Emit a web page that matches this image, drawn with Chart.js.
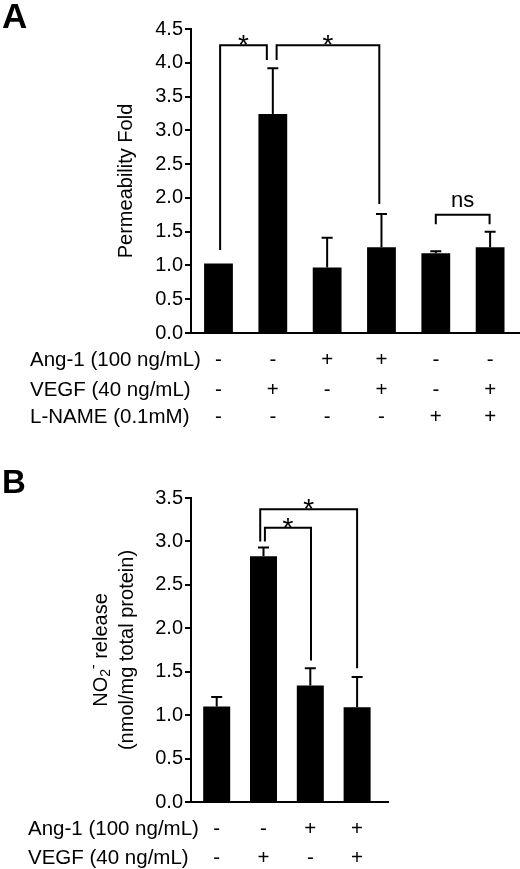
<!DOCTYPE html>
<html><head><meta charset="utf-8">
<script src="https://cdn.jsdelivr.net/npm/chart.js@4.4.0/dist/chart.umd.min.js"></script>
<style>
html,body{margin:0;padding:0;background:#fff;width:520px;height:869px;overflow:hidden}
canvas{position:absolute;left:0}
#ca{top:0}
#cb{top:440px}
</style></head><body>
<canvas id="ca" width="520" height="440"></canvas>
<canvas id="cb" width="520" height="429"></canvas>
<script>
const FONT = '"Liberation Sans", Arial, Helvetica, sans-serif';

// ---------- Panel A data ----------
const groupsA = ['G1', 'G2', 'G3', 'G4', 'G5', 'G6'];
const valuesA = [1.03, 3.24, 0.97, 1.27, 1.18, 1.27];
const errorsA = [0, 0.68, 0.44, 0.49, 0.03, 0.23];
const yTicksA = [0, 0.5, 1.0, 1.5, 2.0, 2.5, 3.0, 3.5, 4.0, 4.5];
const rowLabelsA = ['Ang-1 (100 ng/mL)', 'VEGF (40 ng/mL)', 'L-NAME (0.1mM)'];
const ang1A  = ['-', '-', '+', '+', '-', '-'];
const vegfA  = ['-', '+', '-', '+', '-', '+'];
const lnameA = ['-', '-', '-', '-', '+', '+'];
const bracketsA = [
  {from: 0.03, to: 0.89, top: 4.26, leftEnd: 1.23, rightEnd: 4.04, label: '*'},
  {from: 1.07, to: 2.96, top: 4.26, leftEnd: 4.04, rightEnd: 1.91, label: '*'},
  {from: 4.00, to: 4.99, top: 1.75, leftEnd: 1.61, rightEnd: 1.61, label: 'ns'}
];

// ---------- Panel B data ----------
const groupsB = ['G1', 'G2', 'G3', 'G4'];
const valuesB = [1.10, 2.83, 1.34, 1.09];
const errorsB = [0.11, 0.10, 0.20, 0.35];
const yTicksB = [0, 0.5, 1.0, 1.5, 2.0, 2.5, 3.0, 3.5];
const rowLabelsB = ['Ang-1 (100 ng/mL)', 'VEGF (40 ng/mL)'];
const ang1B = ['-', '-', '+', '+'];
const vegfB = ['-', '+', '-', '+'];
const bracketsB = [
  {from: 0.93, to: 3.00, top: 3.37, leftEnd: 3.00, rightEnd: 1.54, label: '*'},
  {from: 1.03, to: 2.015, top: 3.157, leftEnd: 3.00, rightEnd: 1.63, label: '*'}
];

function extrasPlugin(o) {
  return {
    id: 'extras',
    afterDatasetsDraw(chart) {
      const {ctx} = chart, x = chart.scales.x, y = chart.scales.y;
      ctx.save();
      ctx.strokeStyle = '#000'; ctx.fillStyle = '#000';
      ctx.lineWidth = 2; ctx.lineCap = 'butt'; ctx.lineJoin = 'miter';
      o.values.forEach((v, i) => {
        const e = o.errors[i]; if (!e) return;
        const px = x.getPixelForValue(i);
        const y0 = y.getPixelForValue(v), y1 = y.getPixelForValue(v + e);
        ctx.beginPath();
        ctx.moveTo(px, y0); ctx.lineTo(px, y1);
        ctx.moveTo(px - 5.5, y1); ctx.lineTo(px + 5.5, y1);
        ctx.stroke();
      });
      o.brackets.forEach(b => {
        const xa = x.getPixelForValue(b.from), xb = x.getPixelForValue(b.to);
        const yt = y.getPixelForValue(b.top);
        const ya = y.getPixelForValue(b.leftEnd), yb = y.getPixelForValue(b.rightEnd);
        ctx.beginPath();
        ctx.moveTo(xa, ya); ctx.lineTo(xa, yt); ctx.lineTo(xb, yt); ctx.lineTo(xb, yb);
        ctx.stroke();
        ctx.textAlign = 'center'; ctx.textBaseline = 'alphabetic';
        if (b.label === '*') {
          ctx.font = '28px ' + FONT;
          ctx.fillText('*', (xa + xb) / 2, yt + 9);
        } else {
          ctx.font = '22px ' + FONT;
          ctx.fillText(b.label, (xa + xb) / 2, yt - 8);
        }
      });
      ctx.restore();
    },
    afterDraw(chart) {
      const {ctx, chartArea} = chart, x = chart.scales.x;
      ctx.save();
      ctx.fillStyle = '#000';
      ctx.font = 'bold ' + o.letterSize + 'px ' + FONT;
      ctx.textAlign = 'left'; ctx.textBaseline = 'alphabetic';
      ctx.fillText(o.letter, 2, o.letterY);
      ctx.font = '20.5px ' + FONT;
      o.rows.forEach((r, k) => {
        const by = chartArea.bottom + o.rowOffsets[k];
        ctx.textAlign = 'left';
        ctx.fillText(r.label, o.labelX, by);
        ctx.textAlign = 'center';
        r.signs.forEach((s, i) => ctx.fillText(s, x.getPixelForValue(i), by));
      });
      const cy = (chartArea.top + chartArea.bottom) / 2;
      o.drawTitle(ctx, cy);
      ctx.restore();
    }
  };
}

function baseOptions(o) {
  return {
    responsive: false,
    animation: false,
    events: [],
    layout: {padding: o.padding},
    plugins: {legend: {display: false}, tooltip: {enabled: false}},
    scales: {
      x: {
        type: 'linear', min: o.xMin, max: o.xMax, offset: false,
        ticks: {display: false},
        grid: {display: false, drawTicks: false, offset: false},
        border: {display: true, color: '#000', width: 2},
        afterFit(s) { s.height = 0; }
      },
      y: {
        min: 0, max: o.yMax,
        afterBuildTicks(s) { s.ticks = o.yTicks.map(v => ({value: v})); },
        ticks: {
          color: '#000', padding: 2,
          font: {family: FONT, size: 20},
          callback: v => Number(v).toFixed(1)
        },
        grid: {display: true, drawOnChartArea: false, drawTicks: true, tickLength: 6, color: '#000', lineWidth: 2},
        border: {display: true, color: '#000', width: 2},
        afterFit(s) { s.width = 191; }
      }
    }
  };
}

new Chart(document.getElementById('ca'), {
  type: 'bar',
  data: {
    labels: groupsA,
    datasets: [{
      data: valuesA.map((v, i) => ({x: i, y: v})),
      backgroundColor: '#000', borderWidth: 0,
      barPercentage: 0.53, categoryPercentage: 1
    }]
  },
  options: baseOptions({padding: {top: 29, bottom: 107, left: 0, right: 0}, xMin: -0.506, xMax: 5.55, yMax: 4.5, yTicks: yTicksA}),
  plugins: [extrasPlugin({
    values: valuesA, errors: errorsA, brackets: bracketsA,
    letter: 'A', letterSize: 35, letterY: 28, labelX: 30,
    rowOffsets: [33, 63, 90],
    rows: [{label: rowLabelsA[0], signs: ang1A}, {label: rowLabelsA[1], signs: vegfA}, {label: rowLabelsA[2], signs: lnameA}],
    drawTitle(ctx, cy) {
      ctx.translate(126, cy); ctx.rotate(-Math.PI / 2);
      ctx.font = '20px ' + FONT; ctx.textAlign = 'center'; ctx.textBaseline = 'middle';
      ctx.fillText('Permeability Fold', 0, 0);
    }
  })]
});

new Chart(document.getElementById('cb'), {
  type: 'bar',
  data: {
    labels: groupsB,
    datasets: [{
      data: valuesB.map((v, i) => ({x: i, y: v})),
      backgroundColor: '#000', borderWidth: 0,
      barPercentage: 0.577, categoryPercentage: 1
    }]
  },
  options: baseOptions({padding: {top: 58, bottom: 67, left: 0, right: 132}, xMin: -0.549, xMax: 3.66, yMax: 3.5, yTicks: yTicksB}),
  plugins: [extrasPlugin({
    values: valuesB, errors: errorsB, brackets: bracketsB,
    letter: 'B', letterSize: 33, letterY: 53, labelX: 28,
    rowOffsets: [33, 62],
    rows: [{label: rowLabelsB[0], signs: ang1B}, {label: rowLabelsB[1], signs: vegfB}],
    drawTitle(ctx, cy) {
      ctx.save();
      ctx.translate(127, cy); ctx.rotate(-Math.PI / 2);
      ctx.font = '20px ' + FONT; ctx.textAlign = 'center'; ctx.textBaseline = 'middle';
      ctx.fillText('(nmol/mg total protein)', 0, 0);
      ctx.restore();
      ctx.save();
      ctx.translate(101, cy); ctx.rotate(-Math.PI / 2);
      ctx.textBaseline = 'middle'; ctx.textAlign = 'left';
      const big = '20px ' + FONT, small = '14px ' + FONT;
      ctx.font = big; const w1 = ctx.measureText('NO').width, w4 = ctx.measureText(' release').width;
      ctx.font = small; const w2 = ctx.measureText('2').width, w3 = ctx.measureText('-').width;
      let px = -(w1 + w2 + w3 + w4) / 2;
      ctx.font = big; ctx.fillText('NO', px, 0); px += w1;
      ctx.font = small; ctx.fillText('2', px, 5); px += w2;
      ctx.fillText('-', px, -7); px += w3;
      ctx.font = big; ctx.fillText(' release', px, 0);
      ctx.restore();
    }
  })]
});
</script>
</body></html>
